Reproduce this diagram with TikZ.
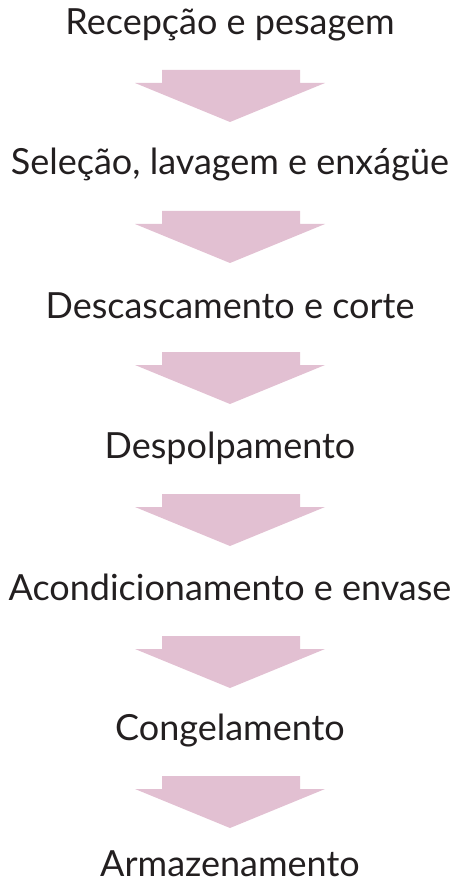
\documentclass[tikz,border=0pt]{standalone}
\usepackage{fontspec}
\setmainfont{Lato}
\definecolor{arrowpink}{RGB}{226,192,210}
\definecolor{txt}{RGB}{35,31,32}
\begin{document}
\begin{tikzpicture}[x=1pt,y=-1pt,
  lbl/.style={font=\fontsize{36}{40}\selectfont, text=txt, inner sep=0pt, anchor=base, text depth=0pt},
  blockarrow/.style={fill=arrowpink, draw=none}]
\useasboundingbox (0,0) rectangle (457,882);
\foreach \n/\y/\t in {s1/35/{Recepção e pesagem}, s2/175/{Seleção, lavagem e enxágüe}, s3/318/{Descascamento e corte}, s4/458/{Despolpamento}, s5/600/{Acondicionamento e envase}, s6/740/{Congelamento}, s7/876/{Armazenamento}}{
  \node[lbl] (\n) at (230,\y) {\t};
}
\foreach \i/\y in {1/70,2/211,3/352,4/494,5/636,6/776}{
  \fill[blockarrow] (162,\y) -- (300,\y) -- (300,\y+13) -- (325,\y+13) -- (230,\y+52) -- (135,\y+13) -- (162,\y+13) -- cycle;
}
\end{tikzpicture}
\end{document}
